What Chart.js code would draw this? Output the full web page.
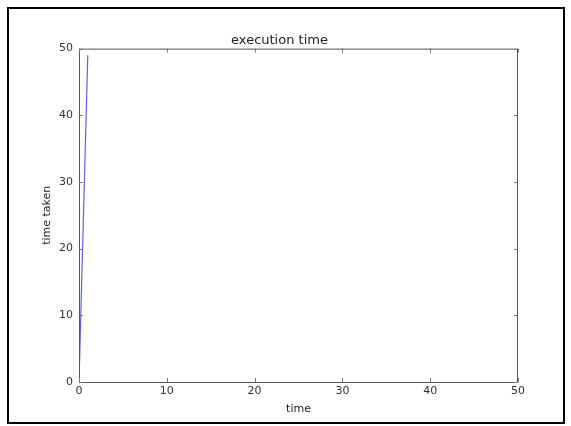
<!DOCTYPE html>
<html>
<head>
<meta charset="utf-8">
<script src="https://cdn.jsdelivr.net/npm/chart.js@4"></script>
<style>
  html, body { margin: 0; padding: 0; background: #fff; }
  #wrap { width: 571px; height: 426px; position: relative; }
</style>
</head>
<body>
<div id="wrap"><canvas id="execChart" width="571" height="426"></canvas></div>
<script>
// values
const runIndex = [0, 1];
const timeTaken = [0, 49];
const axisTicks = [0, 10, 20, 30, 40, 50];

const tickFont = { family: 'DejaVu Sans', size: 11 };

// black frame round the picture and inward ticks like the original
const framePlugin = {
    id: 'frame',
    beforeDraw(chart) {
        const c = chart.ctx;
        c.save();
        c.fillStyle = '#fff';
        c.fillRect(0, 0, chart.width, chart.height);
        c.restore();
    },
    afterDraw(chart) {
        const c = chart.ctx;
        const a = chart.chartArea;
        const xs = chart.scales.x;
        const ys = chart.scales.y;
        c.save();
        c.strokeStyle = '#555';
        c.lineWidth = 1;
        c.strokeRect(a.left + 0.5, a.top + 0.5, a.right - a.left - 1, a.bottom - a.top);
        c.strokeStyle = '#777';
        c.beginPath();
        axisTicks.forEach(v => {
            const px = Math.round(xs.getPixelForValue(v)) + 0.5;
            c.moveTo(px, a.bottom); c.lineTo(px, a.bottom - 4);
            c.moveTo(px, a.top); c.lineTo(px, a.top + 4);
            const py = Math.round(ys.getPixelForValue(v)) + 0.5;
            c.moveTo(a.left, py); c.lineTo(a.left + 4, py);
            c.moveTo(a.right, py); c.lineTo(a.right - 4, py);
        });
        c.stroke();
        c.strokeStyle = '#000';
        c.lineWidth = 2;
        c.strokeRect(8, 8, 556, 415);
        c.restore();
    }
};

const ctx = document.getElementById('execChart').getContext('2d');
const execChart = new Chart(ctx, {
    type: 'scatter',
    data: {
        datasets: [{
            label: 'execution time',
            data: runIndex.map((x, i) => ({ x: x, y: timeTaken[i] })),
            showLine: true,
            borderColor: '#6262d6',
            borderWidth: 1.2,
            pointRadius: 0,
            fill: false
        }]
    },
    options: {
        responsive: false,
        animation: false,
        layout: { padding: { left: 41, right: 53, top: 0, bottom: 10 } },
        plugins: {
            legend: { display: false },
            tooltip: { enabled: false },
            title: {
                display: true,
                text: 'execution time',
                color: '#222',
                font: { family: 'DejaVu Sans', size: 13, weight: 'normal' },
                padding: { top: 33, bottom: 0 }
            }
        },
        scales: {
            x: {
                type: 'linear',
                min: 0,
                max: 50,
                afterBuildTicks: s => { s.ticks = axisTicks.map(v => ({ value: v })); },
                afterFit: s => { s.height = 34; },
                grid: { display: false, drawTicks: false },
                border: { display: false },
                ticks: { color: '#333', font: tickFont, padding: 3, maxRotation: 0 },
                title: { display: true, text: 'time', color: '#222', font: { family: 'DejaVu Sans', size: 11 }, padding: 0 }
            },
            y: {
                type: 'linear',
                min: 0,
                max: 50,
                afterBuildTicks: s => { s.ticks = axisTicks.map(v => ({ value: v })); },
                afterFit: s => { s.width = 38; },
                grid: { display: false, drawTicks: false },
                border: { display: false },
                ticks: { color: '#333', font: tickFont, padding: 6 },
                title: { display: true, text: 'time taken', color: '#222', font: { family: 'DejaVu Sans', size: 11 }, padding: 0 }
            }
        }
    },
    plugins: [framePlugin]
});
</script>
</body>
</html>
